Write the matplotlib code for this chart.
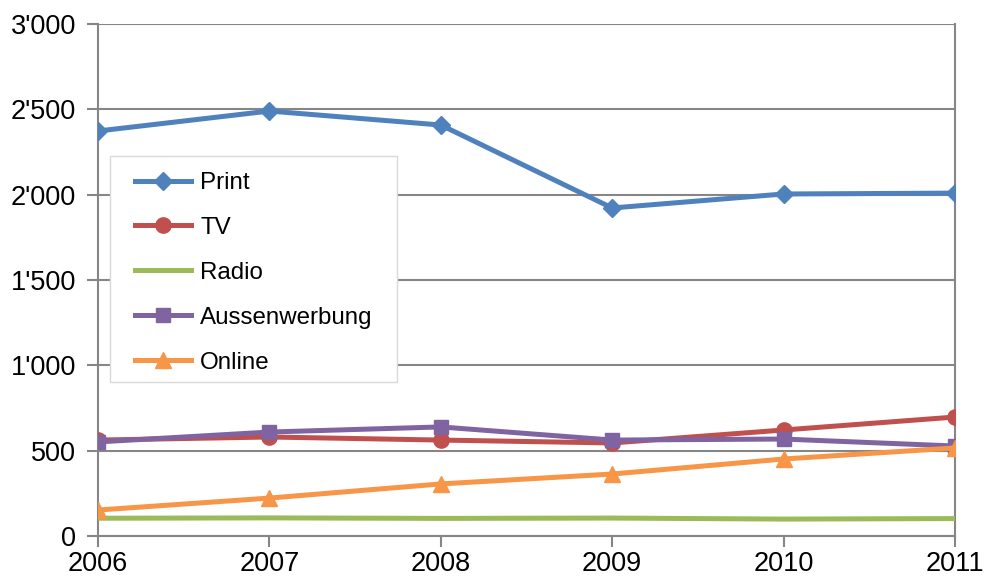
import matplotlib
matplotlib.use("Agg")
import matplotlib.pyplot as plt
from matplotlib.ticker import FuncFormatter
from matplotlib.patches import Rectangle

plt.rcParams['font.family'] = ['Liberation Sans', 'DejaVu Sans']

# Werbeumsatz nach Medium
jahre = [2006, 2007, 2008, 2009, 2010, 2011]
print_werte = [2373, 2490, 2408, 1922, 2004, 2009]
tv_werte = [562, 580, 562, 545, 621, 697]
radio_werte = [104, 106, 103, 105, 99, 102]
aussen_werte = [551, 609, 639, 562, 568, 527]
online_werte = [152, 222, 305, 363, 451, 516]

W, H = 985, 577
fig = plt.figure(figsize=(W / 100, H / 100), dpi=100)
ax = fig.add_axes([0.0995, 0.0711, 0.87, 0.8873])

lw = 3.6
ax.plot(jahre, print_werte, color='#4F81BD', lw=lw, marker='D', ms=9, label='Print', zorder=5)
ax.plot(jahre, tv_werte, color='#C0504D', lw=lw, marker='o', ms=11, label='TV', zorder=3)
ax.plot(jahre, radio_werte, color='#9BBB59', lw=lw, label='Radio', zorder=3)
ax.plot(jahre, aussen_werte, color='#8064A2', lw=lw, marker='s', ms=10, label='Aussenwerbung', zorder=4)
ax.plot(jahre, online_werte, color='#F79646', lw=lw, marker='^', ms=11, label='Online', zorder=4)

ax.set_xlim(2006, 2011)
ax.set_ylim(0, 3000)
ax.set_xticks(jahre)
ax.set_yticks(range(0, 3001, 500))
ax.yaxis.set_major_formatter(FuncFormatter(lambda v, p: f"{int(v):,}".replace(',', "'")))

# Gitter und Achsen in Grau wie im Excel-Diagramm
ax.grid(axis='y', color='#868686', lw=1.5)
ax.set_axisbelow(True)
for s in ['left', 'bottom', 'right']:
    ax.spines[s].set_color('#868686')
    ax.spines[s].set_linewidth(1.5)
ax.spines['top'].set_visible(False)
ax.tick_params(axis='both', colors='#868686', width=1.5, length=8, labelsize=19.5, labelcolor='black')
ax.tick_params(axis='x', pad=2.5)
ax.tick_params(axis='y', pad=8)

# Legendenrahmen separat, damit die Innenabstände wie im Original sind
rahmen = Rectangle((110 / W, 1 - 382 / H), 287 / W, 226 / H, transform=fig.transFigure,
                   facecolor='white', edgecolor='#D9D9D9', lw=1.0, zorder=6)
ax.add_patch(rahmen)
rahmen.set_clip_on(False)

leg = ax.legend(loc='upper left', bbox_to_anchor=(135 / W, 1 - 172 / H),
                bbox_transform=fig.transFigure, borderaxespad=0, borderpad=0,
                fontsize=17.4, frameon=False, handlelength=2.3,
                handletextpad=0.4, labelspacing=0.95)
leg.set_zorder(7)

fig.savefig('out.png', dpi=100)
